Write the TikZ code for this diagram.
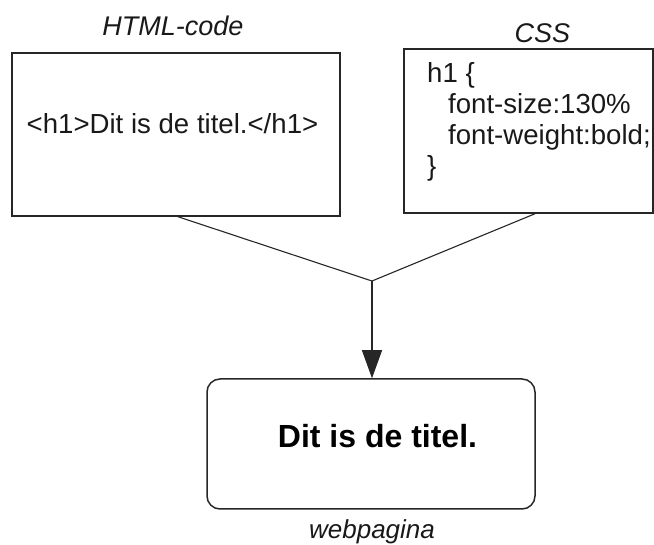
\documentclass[tikz,border=0pt]{standalone}
\usepackage{fontspec}
\setmainfont{Liberation Sans}
\usetikzlibrary{arrows.meta,calc}
\begin{document}
\begin{tikzpicture}[x=1pt,y=-1pt,
  boxline/.style={draw=black!85,line width=1.5pt},
  codetxt/.style={inner sep=0pt,font=\fontsize{27.6}{31}\selectfont,text=black!90},
  titletxt/.style={inner sep=0pt,font=\fontsize{27}{30}\selectfont\itshape,text=black!90},
  conn/.style={draw=black!85,line width=1.1pt}]
\useasboundingbox (0,0) rectangle (654,545);
% boxes
\node[boxline,minimum width=328pt,minimum height=163pt,inner sep=0pt] (html) at (176,134.5) {};
\node[boxline,minimum width=249pt,minimum height=164pt,inner sep=0pt] (css) at (528.5,131) {};
\node[boxline,rounded corners=13pt,minimum width=328pt,minimum height=130pt,inner sep=0pt] (web) at (371,444) {};
% titles
\node[titletxt,anchor=base] (thtml) at (173,36) {HTML-code};
\node[titletxt,anchor=base] (tcss) at (542.5,43) {CSS};
\node[inner sep=0pt,font=\fontsize{26}{30}\selectfont\itshape,text=black!90,anchor=base] (tweb) at (372,538) {webpagina};
% contents
\node[codetxt,anchor=base] (hcode) at (172.5,134) {<h1>Dit is de titel.</h1>};
\node[codetxt,anchor=base west] (c1) at (427,83) {h1 \{};
\node[codetxt,anchor=base west] (c2) at (448,114) {font-size:130\%};
\node[codetxt,anchor=base west] (c3) at (448,145) {font-weight:bold;};
\node[codetxt,anchor=base west] (c4) at (427,176) {\}};
\node[inner sep=0pt,font=\fontsize{32}{36}\selectfont\bfseries,anchor=base] (wtxt) at (377.5,448) {Dit is de titel.};
% connectors
\coordinate (j) at (372,281);
\coordinate (hs) at ([xshift=2pt]html.south);
\coordinate (cs) at ([xshift=6.5pt]css.south);
\draw[conn] (hs) -- (j);
\draw[conn] (cs) -- (j);
\draw[conn,-{Triangle[length=28pt,width=20pt]}] (j) -- (j |- web.north);
\end{tikzpicture}
\end{document}
